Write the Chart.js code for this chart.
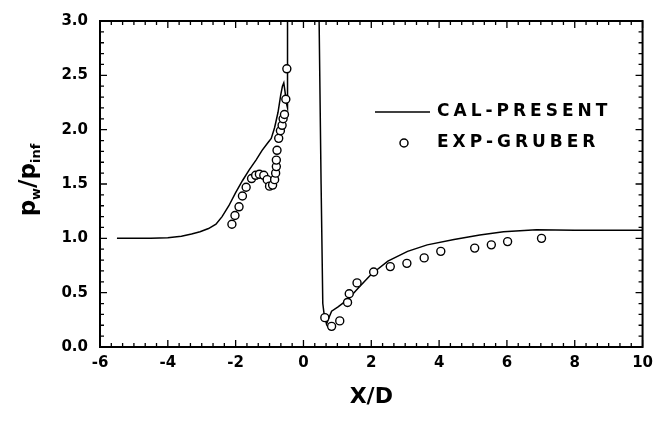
<!DOCTYPE html>
<html lang="en">
<head>
<meta charset="UTF-8">
<title>Wall pressure distribution</title>
<script src="https://cdn.jsdelivr.net/npm/chart.js"></script>
<style>
  html, body { margin: 0; padding: 0; background: #fff; }
</style>
</head>
<body>
<canvas id="pressureChart" width="660" height="426"></canvas>
<script>
// calculated wall pressure (solid line)
const calX = [-5.5, -4.5, -4.0, -3.6, -3.3, -3.05, -2.8, -2.58, -2.4, -2.2, -2.0, -1.8, -1.6, -1.4, -1.22, -1.05, -0.95,
              -0.85, -0.75, -0.67, -0.62, -0.58, -0.54, -0.5, -0.47, -0.47,
              0.45, 0.52, 0.57, 0.61, 0.68, 0.75, 0.83, 1.02, 1.32, 1.61, 2.0, 2.49, 3.07, 3.65, 4.44, 5.2, 5.9, 6.87, 8.0, 10.0];
const calY = [1.0, 1.0, 1.005, 1.02, 1.04, 1.06, 1.09, 1.13, 1.2, 1.3, 1.42, 1.53, 1.63, 1.72, 1.81, 1.88, 1.92,
              2.02, 2.16, 2.32, 2.4, 2.43, 2.34, 2.24, 2.2, 3.3,
              3.3, 1.5, 0.4, 0.3, 0.21, 0.27, 0.33, 0.37, 0.44, 0.54, 0.67, 0.79, 0.88, 0.94, 0.99, 1.03, 1.06, 1.08, 1.075, 1.075];

// experiment (open circles)
const expX = [-2.11, -2.02, -1.90, -1.80, -1.69, -1.53, -1.41, -1.30, -1.17, -1.07, -1.0, -0.91, -0.85, -0.82, -0.80, -0.80,
              -0.78, -0.73, -0.68, -0.63, -0.60, -0.56, -0.52, -0.49,
              0.63, 0.83, 1.07, 1.30, 1.35, 1.58, 2.07, 2.56, 3.05, 3.56, 4.05, 5.05, 5.54, 6.02, 7.02];
const expY = [1.13, 1.21, 1.29, 1.39, 1.47, 1.55, 1.58, 1.59, 1.58, 1.54, 1.48, 1.49, 1.54, 1.60, 1.66, 1.72,
              1.81, 1.92, 1.99, 2.04, 2.10, 2.14, 2.28, 2.56,
              0.27, 0.19, 0.24, 0.41, 0.49, 0.59, 0.69, 0.74, 0.77, 0.82, 0.88, 0.91, 0.94, 0.97, 1.00];

const seriesNames = ['CAL-PRESENT', 'EXP-GRUBER'];
const xTicks = [-6, -4, -2, 0, 2, 4, 6, 8, 10];
const yTicks = [0, 0.5, 1.0, 1.5, 2.0, 2.5, 3.0];
const xTitle = 'X/D';

const tickFont = { family: 'DejaVu Sans', weight: 'bold', size: 15 };

// frame with inward major/minor ticks on all four sides
const framePlugin = {
    id: 'frame',
    afterDatasetsDraw(chart) {
        const { ctx, chartArea: a, scales: { x, y } } = chart;
        ctx.save();
        ctx.strokeStyle = '#000';
        ctx.lineWidth = 1.3;
        ctx.beginPath();
        for (let i = 0; i <= 48; i++) {
            const v = -6 + i / 3;
            const px = x.getPixelForValue(v);
            const len = i % 6 === 0 ? 7 : 4;
            ctx.moveTo(px, a.bottom); ctx.lineTo(px, a.bottom - len);
            ctx.moveTo(px, a.top); ctx.lineTo(px, a.top + len);
        }
        for (let i = 0; i <= 30; i++) {
            const py = y.getPixelForValue(i / 10);
            const len = i % 5 === 0 ? 7 : 4;
            ctx.moveTo(a.left, py); ctx.lineTo(a.left + len, py);
            ctx.moveTo(a.right, py); ctx.lineTo(a.right - len, py);
        }
        ctx.stroke();
        ctx.lineWidth = 2;
        ctx.strokeRect(a.left, a.top, a.right - a.left, a.bottom - a.top);
        ctx.restore();
    }
};

// axis titles (y title needs subscripts) and legend inside the plot
const textPlugin = {
    id: 'texts',
    afterDraw(chart) {
        const { ctx, chartArea: a } = chart;
        ctx.save();
        ctx.fillStyle = '#000';

        // X/D
        ctx.font = 'bold 22px "DejaVu Sans"';
        ctx.textAlign = 'center';
        ctx.textBaseline = 'middle';
        ctx.fillText(xTitle, (a.left + a.right) / 2, 397);

        // p_w/p_inf rotated
        const parts = [['p', 23, 0], ['w', 13, 5], ['/', 23, 0], ['p', 23, 0], ['inf', 13, 5]];
        ctx.translate(31, 180);
        ctx.rotate(-Math.PI / 2);
        ctx.textAlign = 'left';
        ctx.textBaseline = 'alphabetic';
        let total = 0;
        parts.forEach(p => { ctx.font = 'bold ' + p[1] + 'px "DejaVu Sans"'; total += ctx.measureText(p[0]).width; });
        let cx = -total / 2;
        parts.forEach(p => {
            ctx.font = 'bold ' + p[1] + 'px "DejaVu Sans"';
            ctx.fillText(p[0], cx, 4 + p[2]);
            cx += ctx.measureText(p[0]).width;
        });
        ctx.restore();

        // legend
        ctx.save();
        ctx.strokeStyle = '#000';
        ctx.fillStyle = '#000';
        ctx.lineWidth = 1.5;
        ctx.beginPath();
        ctx.moveTo(375, 112); ctx.lineTo(430, 112);
        ctx.stroke();
        ctx.beginPath();
        ctx.fillStyle = '#fff';
        ctx.arc(404, 143, 4, 0, Math.PI * 2);
        ctx.fill();
        ctx.stroke();
        ctx.fillStyle = '#000';
        ctx.font = 'bold 17px "DejaVu Sans"';
        ctx.letterSpacing = '4px';
        ctx.textAlign = 'left';
        ctx.textBaseline = 'middle';
        ctx.fillText(seriesNames[0], 437, 112);
        ctx.fillText(seriesNames[1], 437, 143);
        ctx.restore();
    }
};

const ctx = document.getElementById('pressureChart').getContext('2d');
new Chart(ctx, {
    type: 'scatter',
    data: {
        datasets: [{
            label: seriesNames[1],
            data: expX.map((v, i) => ({ x: v, y: expY[i] })),
            pointRadius: 4,
            pointBorderWidth: 1.4,
            pointBackgroundColor: '#fff',
            pointBorderColor: '#000'
        }, {
            label: seriesNames[0],
            data: calX.map((v, i) => ({ x: v, y: calY[i] })),
            showLine: true,
            borderColor: '#000',
            borderWidth: 1.5,
            pointRadius: 0,
            tension: 0
        }]
    },
    options: {
        responsive: false,
        devicePixelRatio: 1,
        animation: false,
        layout: { autoPadding: false, padding: { top: 15, right: 13, left: 0, bottom: 0 } },
        plugins: { legend: { display: false }, tooltip: { enabled: false } },
        scales: {
            x: {
                type: 'linear',
                min: -6,
                max: 10,
                afterBuildTicks: s => { s.ticks = xTicks.map(v => ({ value: v })); },
                afterFit: s => { s.height = 79; },
                grid: { display: false, drawTicks: false },
                border: { display: false },
                ticks: { padding: 7, color: '#000', font: tickFont, maxRotation: 0, autoSkip: false }
            },
            y: {
                min: 0,
                max: 3,
                afterBuildTicks: s => { s.ticks = yTicks.map(v => ({ value: v })); },
                afterFit: s => { s.width = 100; },
                grid: { display: false, drawTicks: false },
                border: { display: false },
                ticks: { padding: 12, color: '#000', font: tickFont, callback: v => v.toFixed(1) }
            }
        }
    },
    plugins: [framePlugin, textPlugin]
});
</script>
</body>
</html>
